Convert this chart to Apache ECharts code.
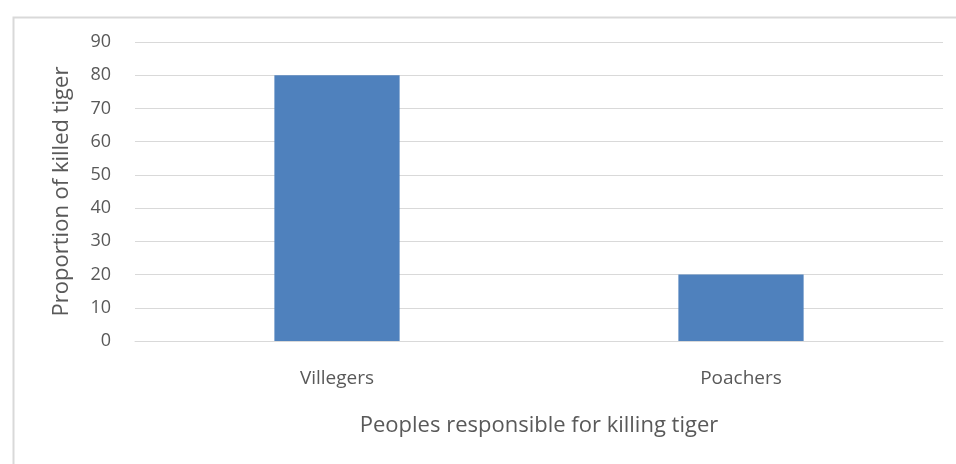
<!DOCTYPE html>
<html>
<head>
<meta charset="utf-8">
<script src="https://cdn.jsdelivr.net/npm/echarts@6/dist/echarts.min.js"></script>
<style>
  html, body { margin: 0; padding: 0; background: #fff; }
  #chart { width: 956px; height: 464px; }
</style>
</head>
<body>
<div id="chart"></div>
<script>
var categories = ['Villegers', 'Poachers'];
var proportions = [80, 20];
var yTicks = { min: 0, max: 90, interval: 10 };

var font = 'Open Sans';
var textColor = '#595959';

var myChart = echarts.init(document.getElementById('chart'));
var option = {
    backgroundColor: '#fff',
    animation: false,
    graphic: [
        {
            type: 'rect',
            left: 11,
            top: 15,
            shape: { width: 1000, height: 500 },
            style: { fill: 'none', stroke: '#d9d9d9', lineWidth: 2 }
        }
    ],
    grid: {
        left: 135,
        right: 13,
        top: 42,
        bottom: 123
    },
    xAxis: {
        type: 'category',
        data: categories,
        name: 'Peoples responsible for killing tiger',
        nameLocation: 'middle',
        nameGap: 74,
        nameTextStyle: { color: textColor, fontSize: 22, fontFamily: font },
        axisLine: { lineStyle: { color: '#d9d9d9', width: 1 } },
        axisTick: { show: false },
        axisLabel: { color: textColor, fontSize: 19, fontFamily: font, margin: 28 }
    },
    yAxis: {
        type: 'value',
        min: yTicks.min,
        max: yTicks.max,
        interval: yTicks.interval,
        name: 'Proportion of killed tiger',
        nameLocation: 'middle',
        nameGap: 62,
        nameTextStyle: { color: textColor, fontSize: 22, fontFamily: font },
        axisLine: { show: false },
        axisTick: { show: false },
        axisLabel: { color: textColor, fontSize: 18, fontFamily: font, margin: 24 },
        splitLine: { lineStyle: { color: '#d9d9d9', width: 1 } }
    },
    series: [
        {
            type: 'bar',
            data: proportions,
            barWidth: '31%',
            itemStyle: { color: '#4f81bd' }
        }
    ]
};
myChart.setOption(option);
</script>
</body>
</html>
